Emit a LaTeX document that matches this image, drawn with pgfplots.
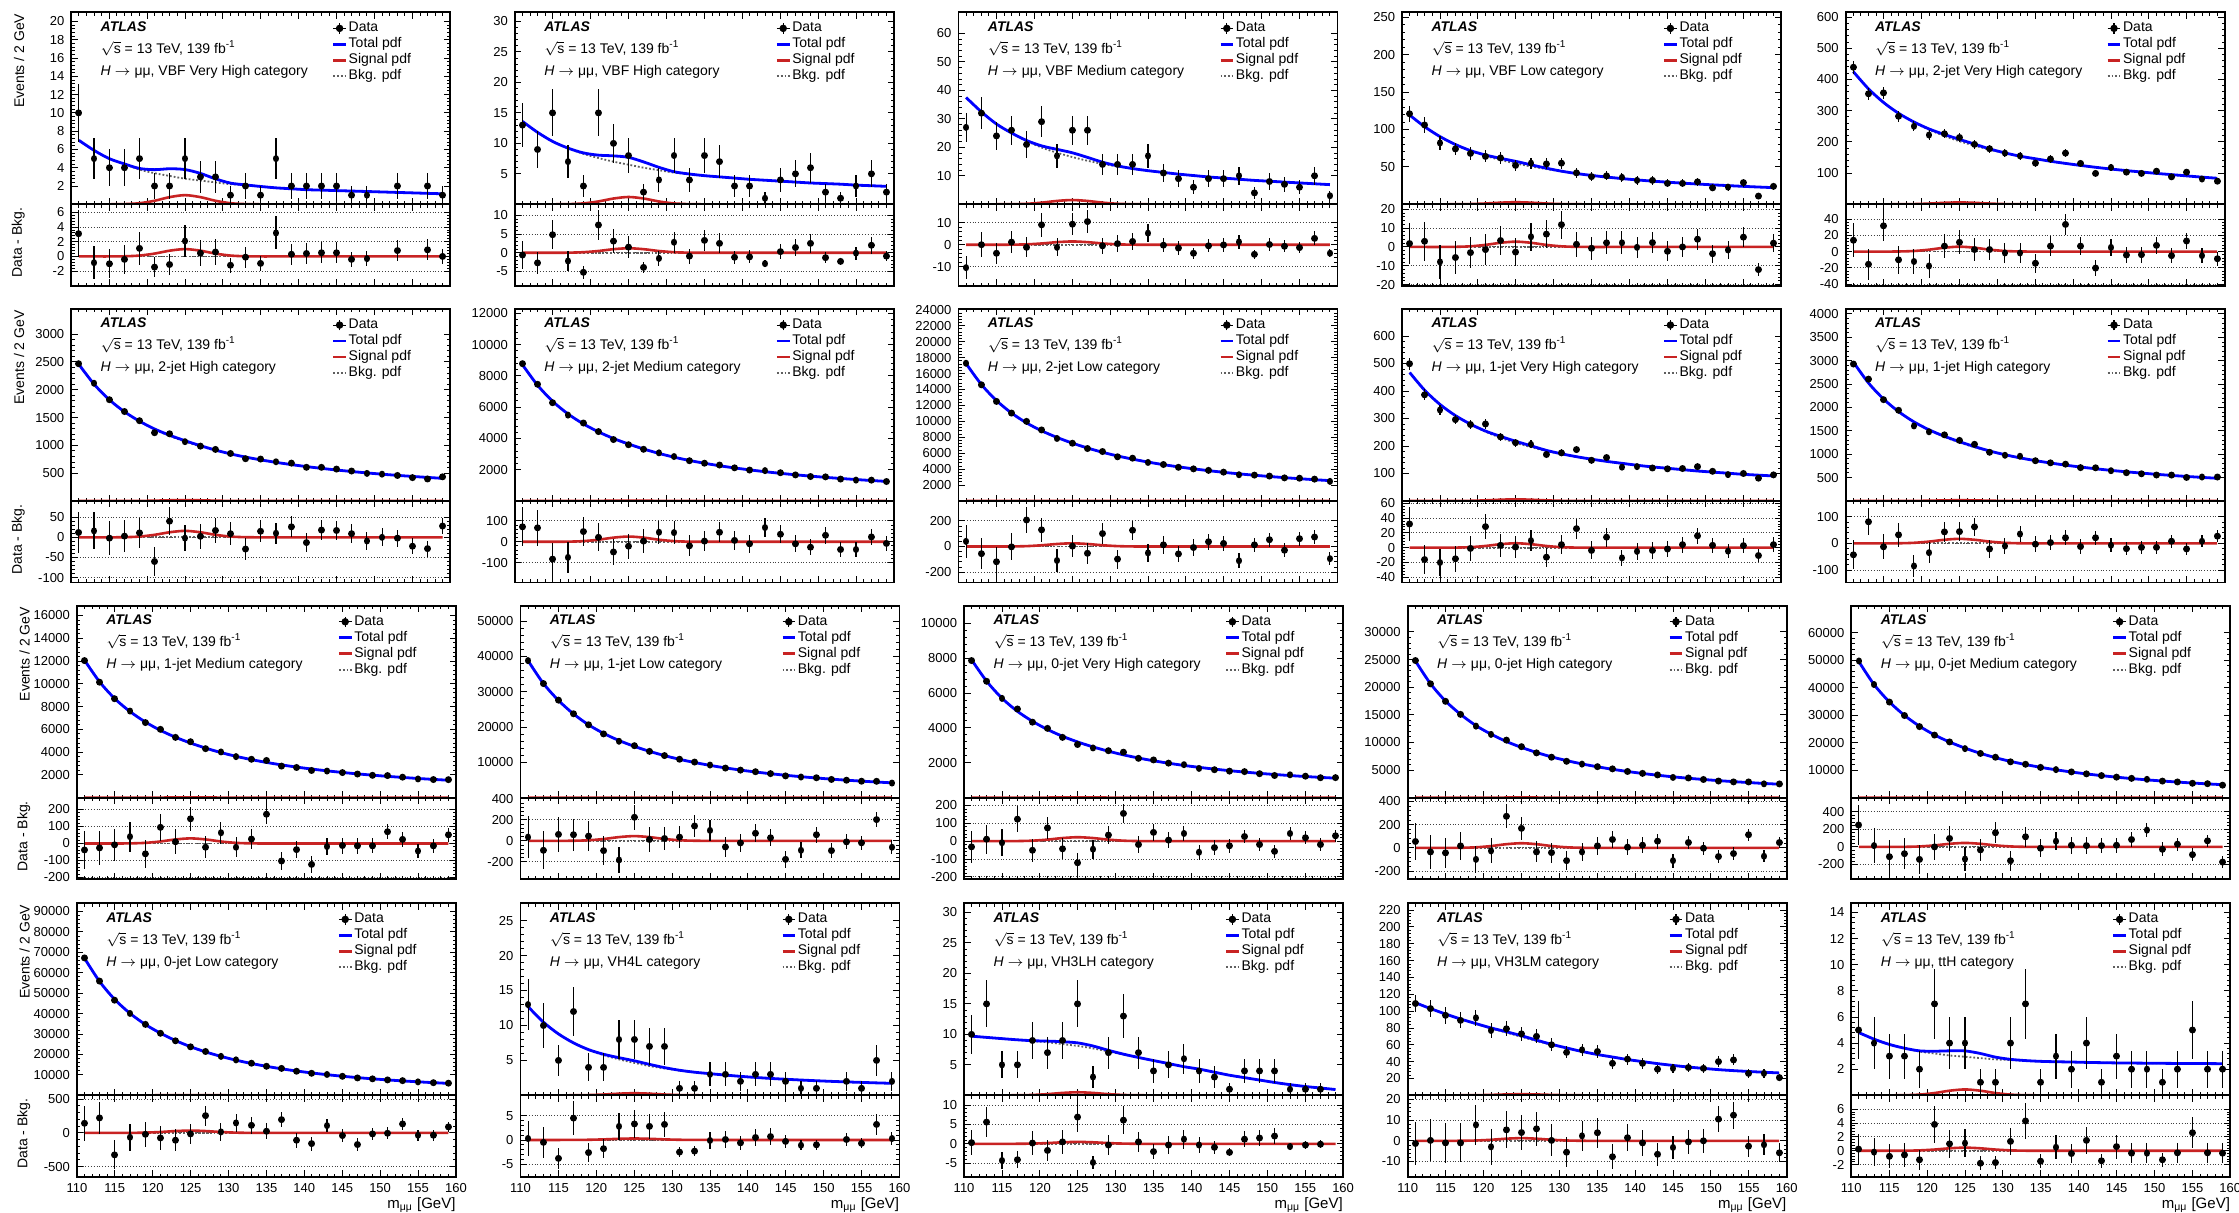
\documentclass[border=0pt]{standalone}
\usepackage{pgfplots}
\usepackage{pgfplotstable}
\pgfplotsset{compat=1.18}
\usepackage{fontspec}
\setmainfont{Liberation Sans}
\setsansfont{Liberation Sans}

\definecolor{totblue}{RGB}{0,0,255}
\definecolor{sigred}{RGB}{200,35,35}
\definecolor{bkggray}{RGB}{95,95,95}

\newcommand{\txt}{\fontsize{7}{8}\selectfont}

% columns: x = bin centre, d = data, e = stat. error, r = data - bkg, b = bkg pdf, s = signal pdf
\pgfplotstableread{
x d e r b s
111 10 3.16 3.1 7.0 0
113 5 2.24 -0.85 5.9 0
115 4 2.00 -1.0 5.0 0
117 4 2.00 -0.4 4.4 0.02
119 5 2.24 1.1 3.8 0.12
121 2 1.41 -1.45 3.4 0.39
123 2 1.41 -1.1 3.1 0.79
125 5 2.24 2.1 2.8 1.0
127 3 1.73 0.45 2.6 0.79
129 3 1.73 0.6 2.4 0.39
131 1 1.00 -1.2 2.2 0.12
133 2 1.41 -0.1 2.1 0.02
135 1 1.00 -0.95 1.95 0
137 5 2.24 3.2 1.8 0
139 2 1.41 0.3 1.7 0
141 2 1.41 0.4 1.6 0
143 2 1.41 0.5 1.55 0
145 2 1.41 0.5 1.5 0
147 1 1.00 -0.4 1.45 0
149 1 1.00 -0.3 1.4 0
151 nan nan nan 1.35 0
153 2 1.41 0.8 1.3 0
155 nan nan nan 1.25 0
157 2 1.41 0.9 1.2 0
159 1 1.00 0.0 1.15 0
}\tabA
\pgfplotstableread{
x d e r b s
111 13 3.61 -0.6 13.6 0
113 9 3.00 -2.7 11.8 0
115 15 3.87 4.8 10.3 0
117 7 2.65 -2.2 9.2 0.024
119 3 1.73 -5.2 8.3 0.144
121 15 3.87 7.4 7.6 0.468
123 10 3.16 3.1 7.0 0.948
125 8 2.83 1.5 6.5 1.2
127 2 1.41 -3.9 6.0 0.948
129 4 2.00 -1.5 5.6 0.468
131 8 2.83 2.8 5.2 0.144
133 4 2.00 -0.9 4.95 0.024
135 8 2.83 3.3 4.7 0
137 7 2.65 2.5 4.5 0
139 3 1.73 -1.2 4.3 0
141 3 1.73 -1.1 4.1 0
143 1 1.00 -2.9 3.95 0
145 4 2.00 0.3 3.8 0
147 5 2.24 1.4 3.65 0
149 6 2.45 2.5 3.5 0
151 2 1.41 -1.3 3.4 0
153 1 1.00 -2.3 3.3 0
155 3 1.73 -0.1 3.15 0
157 5 2.24 2.0 3.05 0
159 2 1.41 -0.9 2.95 0
}\tabB
\pgfplotstableread{
x d e r b s
111 27 5.20 -10.5 37.5 0
113 32 5.66 0.0 32.5 0
115 24 4.90 -3.9 28.2 0
117 26 5.10 1.2 25.0 0.03
119 21 4.58 -1.2 22.2 0.18
121 29 5.39 9.1 19.9 0.585
123 17 4.12 -1.2 18.1 1.185
125 26 5.10 9.4 16.6 1.5
127 26 5.10 10.6 15.3 1.185
129 14 3.74 -0.5 14.2 0.585
131 14 3.74 0.5 13.3 0.18
133 14 3.74 1.5 12.5 0.03
135 17 4.12 5.3 11.8 0
137 11 3.32 -0.2 11.2 0
139 9 3.00 -1.5 10.6 0
141 6 2.45 -3.9 10.1 0
143 9 3.00 -0.5 9.6 0
145 9 3.00 -0.1 9.2 0
147 10 3.16 1.3 8.8 0
149 4 2.00 -4.4 8.4 0
151 8 2.83 0.1 8.1 0
153 7 2.65 -0.7 7.8 0
155 6 2.45 -1.3 7.5 0
157 10 3.16 2.9 7.2 0
159 3 1.73 -3.9 6.9 0
}\tabC
\pgfplotstableread{
x d e r b s
111 121 11.0 1.8 119.2 0
113 106 10.3 3.0 103.5 0
115 82 9.06 -7.9 90.5 0
117 74 8.60 -5.6 80.0 0.056
119 68 8.25 -3.0 71.5 0.336
121 64 8.00 -1.4 64.8 1.092
123 62 7.87 3.4 59.2 2.212
125 52 7.21 -2.7 54.6 2.8
127 55 7.42 5.4 50.6 2.212
129 54 7.35 6.8 47.2 1.092
131 55 7.42 11.8 44.0 0.336
133 42 6.48 1.4 41.1 0.056
135 37 6.08 -0.7 38.6 0
137 38 6.16 2.2 36.4 0
139 36 6.00 2.2 34.4 0
141 32 5.66 -0.2 32.6 0
143 32 5.66 2.3 31.0 0
145 28 5.29 -2.3 29.6 0
147 28 5.29 0.0 28.3 0
149 30 5.48 4.1 27.1 0
151 22 4.69 -3.6 26.0 0
153 23 4.80 -1.6 25.0 0
155 29 5.39 5.2 24.0 0
157 11 3.32 -12.0 23.1 0
159 24 4.90 2.0 22.3 0
}\tabD
\pgfplotstableread{
x d e r b s
111 439 20.95 13.9 425 0
113 354 18.8 -15.6 370 0
115 357 18.9 31.6 326 0
117 282 16.8 -10.1 291 0.12
119 250 15.8 -12.2 263 0.72
121 222 14.9 -17.7 239 2.34
123 226 15.0 6.7 219 4.74
125 214 14.6 11.4 202 6
127 192 13.9 2.5 188 4.74
129 178 13.3 2.5 175 2.34
131 164 12.8 -1.7 164 0.72
133 155 12.4 -1.7 154 0.12
135 132 11.5 -14.3 146 0
137 145 12.0 6.7 138 0
139 164 12.8 33.3 131 0
141 131 11.4 6.7 124.5 0
143 99 9.95 -20.2 118.5 0
145 118 10.9 5.1 113 0
147 103 10.1 -4.2 108 0
149 99 9.95 -3.8 103.5 0
151 106 10.3 7.6 99 0
153 88 9.38 -5.0 95 0
155 103 10.1 13.0 91 0
157 81 9.0 -5.0 87 0
159 74 8.6 -8.8 83.5 0
}\tabE
\pgfplotstableread{
x d e r b s
111 2467 49.7 12 2455 0
113 2116 46.0 16 2100 0
115 1820 42.7 -2 1822 0
117 1608 40.1 3 1605 0.32
119 1443 38.0 11 1432 1.92
121 1227 35.0 -60 1287 6.24
123 1208 34.8 40 1168 12.64
125 1066 32.6 -2 1068 16
127 986 31.4 2.5 983 12.64
129 927 30.4 17 910 6.24
131 854 29.2 9 845 1.92
133 760 27.6 -29 789 0.32
135 754 27.5 15 739 0
137 705 26.6 10 695 0
139 681 26.1 26 655 0
141 606 24.6 -13 619 0
143 605 24.6 18 587 0
145 574 24.0 17 557 0
147 539 23.2 9 530 0
149 496 22.3 -9 505 0
151 482 22.0 0 482 0
153 459 21.4 -2 461 0
155 420 20.5 -22 442 0
157 396 19.9 -28 424 0
159 435 20.9 28 407 0
}\tabF
\pgfplotstableread{
x d e r b s
111 8785 93.7 71.5 8713 0
113 7467 86.4 66.7 7400 0
115 6287 79.3 -83 6370 0
117 5495 74.1 -74.8 5570 0.5
119 4989 70.6 48.8 4940 3
121 4441 66.6 21.1 4420 9.75
123 3931 62.7 -48.8 3980 19.75
125 3599 60.0 -21.1 3620 25
127 3308 57.5 3.3 3305 19.75
129 3081 55.5 45.5 3035 9.75
131 2844 53.3 43.9 2800 3
133 2576 50.8 -19.5 2595 0.5
135 2418 49.2 3.3 2415 0
137 2301 48.0 45.5 2255 0
139 2122 46.1 6.5 2115 0
141 1980 44.5 -9.8 1990 0
143 1943 44.1 68 1875 0
145 1808 42.5 36 1772 0
147 1668 40.8 -10 1678 0
149 1566 39.6 -26 1592 0
151 1544 39.3 31 1513 0
153 1404 37.5 -37 1441 0
155 1337 36.6 -37 1374 0
157 1335 36.5 23 1312 0
159 1247 35.3 -8 1255 0
}\tabG
\pgfplotstableread{
x d e r b s
111 17290 131.5 40 17250 0
113 14584 120.8 -56 14640 0
115 12501 111.8 -119 12620 0
117 11037 105.1 -3 11040 0.5
119 9997 100.0 207 9790 3
121 8920 94.4 130 8790 9.75
123 7851 88.6 -109 7960 19.75
125 7253 85.2 3 7250 25
127 6587 81.2 -53 6640 19.75
129 6211 78.8 101 6110 9.75
131 5552 74.5 -98 5650 3
133 5377 73.3 127 5250 0.5
135 4840 69.6 -50 4890 0
137 4583 67.7 13 4570 0
139 4232 65.1 -58 4290 0
141 4032 63.5 -8 4040 0
143 3847 62.0 37 3810 0
145 3624 60.2 24 3600 0
147 3299 57.4 -111 3410 0
149 3253 57.0 13 3240 0
151 3133 56.0 53 3080 0
153 2906 53.9 -29 2935 0
155 2861 53.5 61 2800 0
157 2749 52.4 74 2675 0
159 2465 49.6 -95 2560 0
}\tabH
\pgfplotstableread{
x d e r b s
111 499 22.3 32 467 0
113 386 19.6 -16 402 0
115 331 18.2 -20 351 0
117 296 17.2 -15 311 0.12
119 278 16.7 -1 279 0.72
121 280 16.7 28.4 252 2.34
123 233 15.3 3.2 230 4.74
125 212 14.6 0.9 211 6
127 206 14.4 9.6 196 4.74
129 169 13.0 -12.8 182 2.34
131 175 13.2 4.1 171 0.72
133 187 13.7 25.7 161 0.12
135 148 12.2 -3.7 152 0
137 158 12.6 14.2 144 0
139 123 11.1 -13.8 137 0
141 125 11.2 -5.0 130 0
143 120 11.0 -3.7 124 0
145 117 10.8 -1.8 119 0
147 118 10.9 4.1 114 0
149 125 11.2 16.0 109 0
151 108 10.4 3.2 105 0
153 96 9.8 -4.6 101 0
155 100 10.0 2.8 97 0
157 83 9.1 -10.6 94 0
159 95 9.7 4.1 91 0
}\tabI
\pgfplotstableread{
x d e r b s
111 2929 54.1 -43 2972 0
113 2606 51.0 81 2525 0
115 2167 46.6 -13 2180 0
117 1940 44.0 32 1908 0.34
119 1605 40.1 -85 1690 2.04
121 1480 38.5 -35 1515 6.63
123 1415 37.6 43 1372 13.43
125 1296 36.0 44 1252 17
127 1212 34.8 62 1150 13.43
129 1042 32.3 -21 1063 6.63
131 978 31.3 -10 988 2.04
133 957 30.9 35 922 0.34
135 861 29.3 -3 864 0
137 816 28.6 3 813 0
139 788 28.1 21 767 0
141 714 26.7 -12 726 0
143 710 26.6 21 689 0
145 648 25.5 -7 655 0
147 605 24.6 -20 625 0
149 582 24.1 -15 597 0
151 556 23.6 -15 571 0
153 555 23.6 8 547 0
155 504 22.4 -21 525 0
157 513 22.6 8 505 0
159 513 22.6 27 486 0
}\tabJ
\pgfplotstableread{
x d e r b s
111 12042 109.7 -38 12080 0
113 10144 100.7 -26 10170 0
115 8692 93.2 -8 8700 0
117 7610 87.2 40 7570 0.6
119 6599 81.2 -61 6660 3.6
121 6005 77.5 95 5910 11.7
123 5300 72.8 10 5290 23.7
125 4915 70.1 145 4770 30
127 4308 65.6 -22 4330 23.7
129 4018 63.4 63 3955 11.7
131 3608 60.1 -22 3630 3.6
133 3376 58.1 26 3350 0.6
135 3272 57.2 172 3100 0
137 2777 52.7 -103 2880 0
139 2654 51.5 -36 2690 0
141 2392 48.9 -123 2515 0
143 2342 48.4 -18 2360 0
145 2208 47.0 -12 2220 0
147 2081 45.6 -14 2095 0
149 1966 44.3 -14 1980 0
151 1944 44.1 69 1875 0
153 1804 42.5 24 1780 0
155 1646 40.6 -44 1690 0
157 1596 40.0 -14 1610 0
159 1586 39.8 51 1535 0
}\tabK
\pgfplotstableread{
x d e r b s
111 38795 197.0 35 38760 0
113 32300 179.7 -90 32390 0
115 27611 166.2 61 27550 0
117 23758 154.1 58 23700 0.9
119 20645 143.7 45 20600 5.4
121 18057 134.4 -93 18150 17.55
123 15968 126.4 -182 16150 35.55
125 14724 121.3 224 14500 45
127 13113 114.5 13 13100 35.55
129 11922 109.2 22 11900 17.55
131 10885 104.3 35 10850 5.4
133 10091 100.5 141 9950 0.9
135 9249 96.2 99 9150 0
137 8392 91.6 -58 8450 0
139 7810 88.4 -20 7830 0
141 7352 85.7 72 7280 0
143 6819 82.6 29 6790 0
145 6174 78.6 -176 6350 0
147 5860 76.6 -90 5950 0
149 5648 75.2 58 5590 0
151 5167 71.9 -93 5260 0
153 4950 70.4 -10 4960 0
155 4671 68.3 -19 4690 0
157 4642 68.1 202 4440 0
159 4149 64.4 -61 4210 0
}\tabL
\pgfplotstableread{
x d e r b s
111 7858 88.6 -32 7890 0
113 6671 81.7 11 6660 0
115 5691 75.4 -9 5700 0
117 5083 71.3 123 4960 0.44
119 4329 65.8 -51 4380 2.64
121 3974 63.0 74 3900 8.58
123 3457 58.8 -43 3500 17.38
125 3049 55.2 -121 3170 22
127 2850 53.4 -45 2895 17.38
129 2694 51.9 34 2660 8.58
131 2610 51.1 155 2455 2.64
133 2256 47.5 -19 2275 0.44
135 2164 46.5 49 2115 0
137 1981 44.5 6 1975 0
139 1893 43.5 43 1850 0
141 1678 41.0 -62 1740 0
143 1604 40.0 -36 1640 0
145 1524 39.0 -26 1550 0
147 1496 38.7 26 1470 0
149 1376 37.1 -19 1395 0
151 1273 35.7 -57 1330 0
153 1313 36.2 43 1270 0
155 1234 35.1 19 1215 0
157 1146 33.9 -19 1165 0
159 1150 33.9 30 1120 0
}\tabM
\pgfplotstableread{
x d e r b s
111 24820 157.5 55 24765 0
113 20610 143.6 -35 20645 0
115 17437 132.0 -43 17480 0
117 15077 122.8 17 15060 0.8
119 12951 113.8 -99 13050 4.8
121 11454 107.0 -26 11480 15.6
123 10422 102.1 272 10150 31.6
125 9238 96.1 168 9070 40
127 8115 90.1 -35 8150 31.6
129 7329 85.6 -41 7370 15.6
131 6590 81.2 -110 6700 4.8
133 6080 78.0 -35 6115 0.8
135 5617 74.9 17 5600 0
137 5222 72.3 72 5150 0
139 4751 68.9 6 4745 0
141 4408 66.4 23 4385 0
143 4123 64.2 58 4065 0
145 3670 60.6 -110 3780 0
147 3571 59.8 46 3525 0
149 3297 57.4 -3 3300 0
151 3020 55.0 -75 3095 0
153 2861 53.5 -49 2910 0
155 2853 53.4 113 2740 0
157 2513 50.1 -72 2585 0
159 2491 49.9 46 2445 0
}\tabN
\pgfplotstableread{
x d e r b s
111 49759 223.1 249 49510 0
113 41205 203.0 15 41190 0
115 34819 186.6 -111 34930 0
117 29913 173.0 -77 29990 0.9
119 25878 160.9 -142 26020 5.4
121 22800 151.0 0 22800 17.55
123 20296 142.5 96 20200 35.55
125 17862 133.7 -138 18000 45
127 16116 126.9 -34 16150 35.55
129 14731 121.4 161 14570 17.55
131 13063 114.3 -157 13220 5.4
133 12175 110.3 115 12060 0.9
135 11035 105.0 -15 11050 0
137 10225 101.1 65 10160 0
139 9389 96.9 19 9370 0
141 8685 93.2 15 8670 0
143 8055 89.7 15 8040 0
145 7489 86.5 19 7470 0
147 7044 83.9 84 6960 0
149 6691 81.8 191 6500 0
151 6053 77.8 -27 6080 0
153 5731 75.7 31 5700 0
155 5262 72.5 -88 5350 0
157 5099 71.4 69 5030 0
159 4568 67.6 -172 4740 0
}\tabO
\pgfplotstableread{
x d e r b s
111 67263 259.4 143 67120 0
113 55922 236.5 222 55700 0
115 46575 215.8 -325 46900 0
117 40086 200.2 -64 40150 0.7
119 34730 186.4 -20 34750 4.2
121 30376 174.3 -74 30450 13.65
123 26692 163.4 -108 26800 27.65
125 23735 154.1 -15 23750 35
127 21456 146.5 256 21200 27.65
129 19065 138.1 15 19050 13.65
131 17348 131.7 148 17200 4.2
133 15713 125.4 113 15600 0.7
135 14225 119.3 25 14200 0
137 13177 114.8 197 12980 0
139 11792 108.6 -108 11900 0
141 10792 103.9 -158 10950 0
143 10208 101.0 108 10100 0
145 9311 96.5 -39 9350 0
147 8508 92.2 -172 8680 0
149 8065 89.8 -15 8080 0
151 7535 86.8 -5 7540 0
153 7183 84.8 133 7050 0
155 6576 81.1 -34 6610 0
157 6176 78.6 -34 6210 0
159 5939 77.1 89 5850 0
}\tabP
\pgfplotstableread{
x d e r b s
111 13 3.61 0.3 12.7 0
113 10 3.16 -0.5 10.5 0
115 5 2.24 -3.8 8.8 0
117 12 3.46 4.5 7.5 0.006
119 4 2.00 -2.6 6.5 0.036
121 4 2.00 -1.8 5.75 0.117
123 8 2.83 2.8 5.15 0.237
125 8 2.83 3.3 4.65 0.3
127 7 2.65 2.8 4.2 0.237
129 7 2.65 3.2 3.85 0.117
131 1 1.00 -2.5 3.55 0.036
133 1 1.00 -2.3 3.3 0.006
135 3 1.73 -0.1 3.1 0
137 3 1.73 0.1 2.9 0
139 2 1.41 -0.6 2.72 0
141 3 1.73 0.5 2.56 0
143 3 1.73 0.7 2.42 0
145 2 1.41 -0.3 2.3 0
147 1 1.00 -1.1 2.19 0
149 1 1.00 -1.0 2.09 0
151 nan nan nan 2.0 0
153 2 1.41 0.1 1.92 0
155 1 1.00 -0.7 1.85 0
157 5 2.24 3.2 1.78 0
159 2 1.41 0.3 1.72 0
}\tabQ
\pgfplotstableread{
x d e r b s
111 10 3.16 0.3 9.7 0
113 15 3.87 5.6 9.5 0
115 5 2.24 -4.3 9.3 0
117 5 2.24 -4.1 9.1 0.01
119 9 3.00 0.2 8.9 0.06
121 7 2.65 -1.7 8.7 0.195
123 9 3.00 0.5 8.4 0.395
125 15 3.87 6.9 8.1 0.5
127 3 1.73 -4.8 7.7 0.395
129 7 2.65 -0.3 7.2 0.195
131 13 3.61 6.1 6.7 0.06
133 7 2.65 0.5 6.2 0.01
135 4 2.00 -2.0 5.7 0
137 5 2.24 -0.3 5.2 0
139 6 2.45 1.2 4.7 0
141 4 2.00 -0.3 4.3 0
143 3 1.73 -0.9 3.8 0
145 1 1.00 -2.2 3.3 0
147 4 2.00 1.2 2.9 0
149 4 2.00 1.5 2.5 0
151 4 2.00 2.0 2.1 0
153 1 1.00 -0.7 1.75 0
155 1 1.00 -0.3 1.45 0
157 1 1.00 -0.1 1.2 0
159 nan nan nan 0.95 0
}\tabR
\pgfplotstableread{
x d e r b s
111 109 10.44 -1.3 110 0
113 103 10.15 0.2 103 0
115 95 9.75 -1.0 96.5 0
117 89 9.43 -1.0 90.5 0.026
119 92 9.59 7.7 85 0.156
121 77 8.77 -2.9 79.5 0.507
123 79 8.89 5.3 74.5 1.027
125 73 8.54 4.0 69.5 1.3
127 70 8.37 5.8 64.5 1.027
129 60 7.75 0.2 60 0.507
131 51 7.14 -5.5 56 0.156
133 54 7.35 2.4 52 0.026
135 52 7.21 3.9 48.5 0
137 38 6.16 -7.7 45.5 0
139 43 6.56 1.5 42.5 0
141 38 6.16 -1.0 40 0
143 31 5.57 -6.5 37.6 0
145 32 5.66 -3.2 35.5 0
147 33 5.74 -0.5 33.6 0
149 32 5.66 0.0 32 0
151 40 6.32 10.5 30.5 0
153 42 6.48 12.4 29.3 0
155 26 5.10 -2.6 28.3 0
157 26 5.10 -1.9 27.4 0
159 21 4.58 -5.8 26.6 0
}\tabS
\pgfplotstableread{
x d e r b s
111 5 2.24 0.24 4.8 0
113 4 2.00 -0.2 4.3 0
115 3 1.73 -0.8 3.9 0
117 3 1.73 -0.6 3.6 0.009
119 2 1.41 -1.3 3.35 0.054
121 7 2.65 3.8 3.2 0.176
123 4 2.00 1.0 3.05 0.356
125 4 2.00 1.1 2.95 0.45
127 1 1.00 -1.8 2.85 0.356
129 1 1.00 -1.7 2.75 0.176
131 4 2.00 1.35 2.7 0.054
133 7 2.65 4.3 2.65 0.009
135 1 1.00 -1.5 2.6 0
137 3 1.73 0.5 2.57 0
139 2 1.41 -0.4 2.55 0
141 4 2.00 1.5 2.52 0
143 1 1.00 -1.45 2.5 0
145 3 1.73 0.6 2.48 0
147 2 1.41 -0.35 2.47 0
149 2 1.41 -0.35 2.46 0
151 1 1.00 -1.3 2.45 0
153 2 1.41 -0.3 2.44 0
155 5 2.24 2.6 2.43 0
157 2 1.41 -0.3 2.43 0
159 2 1.41 -0.35 2.42 0
}\tabT

% a compact round data marker: a very short stroke with round caps
\pgfdeclareplotmark{dot}{%
  \pgfsetlinewidth{3.4pt}\pgfsetroundcap
  \pgfpathmoveto{\pgfqpoint{0pt}{-0.05pt}}%
  \pgfpathlineto{\pgfqpoint{0pt}{0.05pt}}%
  \pgfusepathqstroke}
% plain vertical error bars (no end marks)
\pgfplotsset{error bars/draw error bar/.code 2 args={\draw[/pgfplots/every error bar] #1 -- #2;}}

\pgfplotsset{
  totstyle/.style={totblue, line width=1.4pt, smooth, no markers},
  sigstyle/.style={sigred, line width=1.3pt, smooth, no markers},
  bkgstyle/.style={bkggray, line width=0.9pt, densely dotted, smooth, no markers},
  datamarks/.style={black, only marks, mark=dot},
  datastyle/.style={datamarks,
    error bars/y dir=both, error bars/y explicit,
    error bars/error bar style={line width=0.55pt, black, solid}},
  dataleg/.style={legend image code/.code={%
      \draw[black, line width=0.55pt] (0pt,0pt) -- (6.3pt,0pt);
      \draw[black, line width=0.55pt] (3.15pt,-2.6pt) -- (3.15pt,2.6pt);
      \fill[black] (3.15pt,0pt) circle (1.65pt);}},
  totleg/.style={legend image code/.code={\draw[totblue, line width=1.4pt] (0pt,0pt) -- (6.3pt,0pt);}},
  sigleg/.style={legend image code/.code={\draw[sigred, line width=1.3pt] (0pt,0pt) -- (6.3pt,0pt);}},
  bkgleg/.style={legend image code/.code={\draw[bkggray, line width=0.9pt, densely dotted] (0pt,0pt) -- (6.3pt,0pt);}},
  panelbase/.style={
    scale only axis, width=189.5pt, anchor=north west,
    xmin=110, xmax=160, xtick={110,115,...,160}, minor x tick num=4,
    minor y tick num=4,
    tick align=inside, xtick pos=both, ytick pos=both,
    major tick length=3.2pt, minor tick length=1.6pt,
    tick style={black, line width=0.45pt},
    axis line style={black, line width=0.9pt},
    tick label style={font=\fontsize{6.5}{7}\selectfont},
    /pgf/number format/assume math mode=true,
    /pgf/number format/1000 sep={},
    scaled y ticks=false, scaled x ticks=false,
    xticklabels={},
  },
  mainpanel/.style={panelbase, height=96pt, ymin=0,
    maindata/.style={datastyle},
    legend cell align=left,
    legend style={at={(rel axis cs:0.6876,0.958)}, anchor=north west,
      draw=none, fill=none, inner sep=0pt, outer sep=0pt, row sep=0pt,
      font=\txt, nodes={inner sep=0.7pt, text height=5pt, text depth=1.6pt}},
  },
  histat/.style={maindata/.style={datamarks}},
  ratiopanel/.style={panelbase, height=40.75pt, ymajorgrids,
    grid style={densely dotted, black!75, line width=0.45pt}},
  bottomrow/.style={
    xticklabels={110,115,120,125,130,135,140,145,150,155,160},
    xlabel={m\textsubscript{μμ} [GeV]},
    xlabel style={at={(rel axis cs:1,0)}, anchor=north east, yshift=-10pt,
      inner sep=0pt, font=\fontsize{7.5}{9}\selectfont}},
  evlabel/.style={ylabel={Events / 2 GeV},
    ylabel style={at={(rel axis cs:-0.138,0.995)}, anchor=east, inner sep=0pt, font=\txt}},
  dblabel/.style={ylabel={Data - Bkg.},
    ylabel style={at={(rel axis cs:-0.14,0.963)}, anchor=east, inner sep=0pt, font=\txt}},
}

% #1,#2: top-left corner, #3: table, #4: category, #5: main-pad options,
% #6: ratio-pad options, #7: extra options for the ratio pad
\newcommand{\Panel}[7]{%
  \begin{axis}[mainpanel, at={(#1,#2)}, #5]
    \addlegendimage{dataleg}\addlegendentry{Data}
    \addlegendimage{totleg}\addlegendentry{Total pdf}
    \addlegendimage{sigleg}\addlegendentry{Signal pdf}
    \addlegendimage{bkgleg}\addlegendentry{Bkg. pdf}
    \addplot[sigstyle, forget plot] table[x=x, y=s] {#3};
    \addplot[bkgstyle, forget plot] table[x=x, y=b] {#3};
    \addplot[totstyle, forget plot] table[x=x, y expr=\thisrow{b}+\thisrow{s}] {#3};
    \addplot[forget plot, maindata] table[x=x, y=d, y error=e] {#3};
    \node[anchor=base west, inner sep=0pt, font=\txt\bfseries\itshape] at (rel axis cs:0.0766,0.902) {ATLAS};
    \node[anchor=base west, inner sep=0pt, font=\txt] at (rel axis cs:0.0766,0.787) {$\sqrt{\hbox{s}}$ = 13 TeV, 139 fb\textsuperscript{-1}};
    \node[anchor=base west, inner sep=0pt, font=\txt] at (rel axis cs:0.0766,0.673) {\textit{H} $\rightarrow$ μμ, #4};
  \end{axis}
  \begin{axis}[ratiopanel, at={(#1,#2-96pt)}, #6, #7]
    \addplot[bkgstyle] coordinates {(111,0) (159,0)};
    \addplot[sigstyle] table[x=x, y=s] {#3};
    \addplot[datastyle] table[x=x, y=r, y error=e] {#3};
  \end{axis}%
}

\begin{document}
\begin{tikzpicture}
\useasboundingbox (0,0) rectangle (1119.5pt,-606pt);
% row 1
\Panel{35.65pt}{-6.15pt}{\tabA}{VBF Very High category}
  {ymax=21, ytick={2,4,...,20}, evlabel}
  {ymin=-4, ymax=7.1, ytick={-2,0,2,4,6}, dblabel}{}
\Panel{257.45pt}{-6.15pt}{\tabB}{VBF High category}
  {ymax=31.5, ytick={5,10,...,30}}
  {ymin=-8.8, ymax=12.9, ytick={-5,0,5,10}}{}
\Panel{479.25pt}{-6.15pt}{\tabC}{VBF Medium category}
  {ymax=67.4, ytick={10,20,...,60}}
  {ymin=-18.8, ymax=18.5, ytick={-10,0,10}}{}
\Panel{701.05pt}{-6.15pt}{\tabD}{VBF Low category}
  {ymax=256.6, ytick={50,100,...,250}}
  {ymin=-20.6, ymax=22.6, ytick={-20,-10,0,10,20}}{}
\Panel{922.85pt}{-6.15pt}{\tabE}{2-jet Very High category}
  {ymax=615, ytick={100,200,...,600}}
  {ymin=-42, ymax=58, ytick={-40,-20,0,20,40}}{}
% row 2
\Panel{35.65pt}{-154.5pt}{\tabF}{2-jet High category}
  {ymax=3450, ytick={500,1000,1500,2000,2500,3000}, evlabel, histat}
  {ymin=-112, ymax=90, ytick={-100,-50,0,50}, dblabel}{}
\Panel{257.45pt}{-154.5pt}{\tabG}{2-jet Medium category}
  {ymax=12280, ytick={2000,4000,6000,8000,10000,12000}, histat}
  {ymin=-195, ymax=195, ytick={-100,0,100}}{}
\Panel{479.25pt}{-154.5pt}{\tabH}{2-jet Low category}
  {ymax=24100, ytick={2000,4000,6000,8000,10000,12000,14000,16000,18000,20000,22000,24000}, histat}
  {ymin=-281, ymax=355, ytick={-200,0,200}}{}
\Panel{701.05pt}{-154.5pt}{\tabI}{1-jet Very High category}
  {ymax=698, ytick={100,200,...,600}}
  {ymin=-47, ymax=63, ytick={-40,-20,0,20,40,60}}{}
\Panel{922.85pt}{-154.5pt}{\tabJ}{1-jet High category}
  {ymax=4105, ytick={500,1000,1500,2000,2500,3000,3500,4000}, histat}
  {ymin=-147, ymax=159, ytick={-100,0,100}}{}
% row 3
\Panel{38.45pt}{-302.85pt}{\tabK}{1-jet Medium category}
  {ymax=16860, ytick={2000,4000,6000,8000,10000,12000,14000,16000}, evlabel, histat}
  {ymin=-210, ymax=269, ytick={-200,-100,0,100,200}, dblabel}{}
\Panel{260.25pt}{-302.85pt}{\tabL}{1-jet Low category}
  {ymax=54330, ytick={10000,20000,30000,40000,50000}, histat}
  {ymin=-365, ymax=410, ytick={-200,0,200,400}}{}
\Panel{482.05pt}{-302.85pt}{\tabM}{0-jet Very High category}
  {ymax=11000, ytick={2000,4000,6000,8000,10000}, histat}
  {ymin=-213, ymax=243, ytick={-200,-100,0,100,200}}{}
\Panel{703.85pt}{-302.85pt}{\tabN}{0-jet High category}
  {ymax=34740, ytick={5000,10000,15000,20000,25000,30000}, histat}
  {ymin=-270, ymax=432, ytick={-200,0,200,400}}{}
\Panel{925.65pt}{-302.85pt}{\tabO}{0-jet Medium category}
  {ymax=69880, ytick={10000,20000,30000,40000,50000,60000}, histat}
  {ymin=-367, ymax=559, ytick={-200,0,200,400}}{}
% row 4
\Panel{38.45pt}{-451.65pt}{\tabP}{0-jet Low category}
  {ymax=94000, ytick={10000,20000,30000,40000,50000,60000,70000,80000,90000}, evlabel, histat}
  {ymin=-650, ymax=557, ytick={-500,0,500}, dblabel}{bottomrow}
\Panel{260.25pt}{-451.65pt}{\tabQ}{VH4L category}
  {ymax=27.5, ytick={5,10,...,25}}
  {ymin=-7.6, ymax=9.2, ytick={-5,0,5}}{bottomrow}
\Panel{482.05pt}{-451.65pt}{\tabR}{VH3LH category}
  {ymax=31.5, ytick={5,10,...,30}}
  {ymin=-8.5, ymax=12.5, ytick={-5,0,5,10}}{bottomrow}
\Panel{703.85pt}{-451.65pt}{\tabS}{VH3LM category}
  {ymax=228, ytick={20,40,...,220}}
  {ymin=-17.4, ymax=22, ytick={-10,0,10,20}}{bottomrow}
\Panel{925.65pt}{-451.65pt}{\tabT}{ttH category}
  {ymax=14.7, ytick={2,4,...,14}}
  {ymin=-3.76, ymax=8, ytick={-2,0,2,4,6}}{bottomrow}
\end{tikzpicture}
\end{document}
